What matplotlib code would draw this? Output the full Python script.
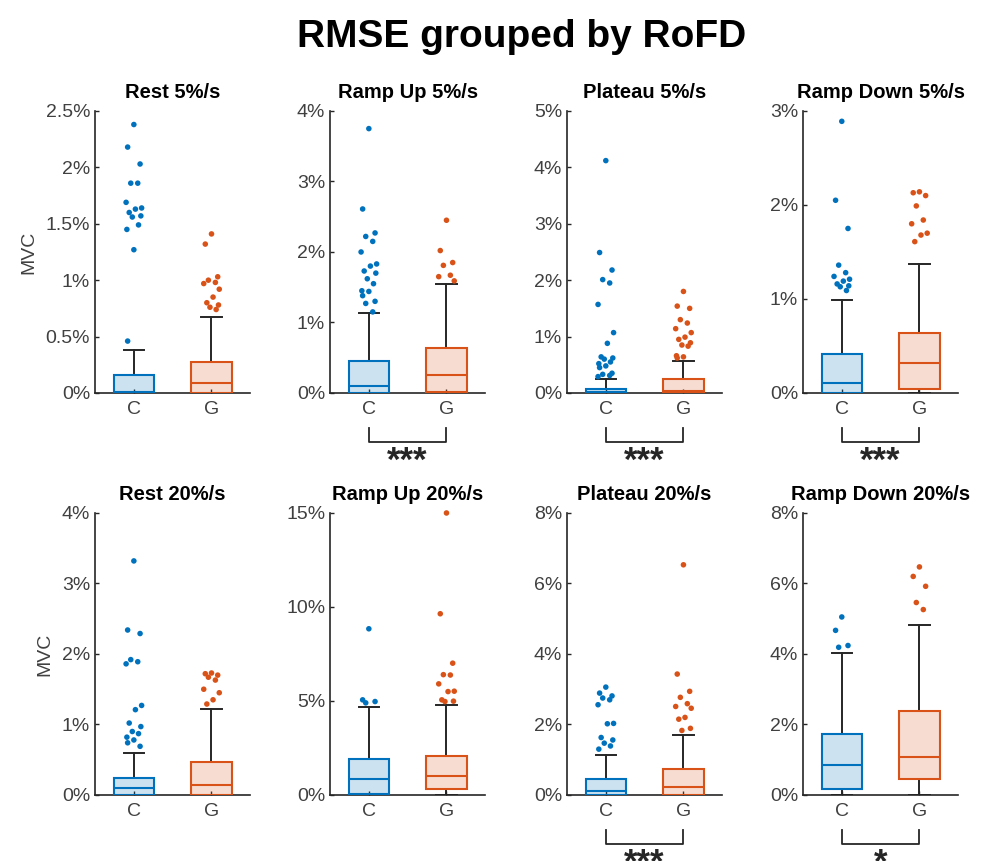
import numpy as np
import matplotlib.pyplot as plt
from matplotlib.ticker import FuncFormatter
import matplotlib.transforms as mtransforms

plt.rcParams['font.family'] = ['Liberation Sans', 'DejaVu Sans']

# panel layout: row 1 = 5%/s, row 2 = 20%/s
titles = ['Rest 5%/s', 'Ramp Up 5%/s', 'Plateau 5%/s', 'Ramp Down 5%/s',
          'Rest 20%/s', 'Ramp Up 20%/s', 'Plateau 20%/s', 'Ramp Down 20%/s']
y_max = [2.5, 4, 5, 3, 4, 15, 8, 8]
y_step = [0.5, 1, 1, 1, 1, 5, 2, 2]
groups = ['C', 'G']

# box summary per panel: (whisker low, q1, median, q3, whisker high), in % MVC
c_box = [(0, 0, 0.01, 0.163, 0.38),
         (0, 0, 0.095, 0.46, 1.14),
         (0, 0, 0.02, 0.077, 0.25),
         (0, 0, 0.107, 0.41, 0.99),
         (0, 0, 0.095, 0.246, 0.59),
         (0, 0.05, 0.83, 1.90, 4.67),
         (0, 0.01, 0.12, 0.445, 1.12),
         (0, 0.16, 0.85, 1.73, 4.02)]
g_box = [(0, 0, 0.089, 0.272, 0.675),
         (0, 0.02, 0.26, 0.64, 1.54),
         (0, 0, 0.03, 0.255, 0.56),
         (0, 0.043, 0.32, 0.64, 1.37),
         (0, 0, 0.14, 0.47, 1.22),
         (0, 0.30, 1.03, 2.09, 4.76),
         (0, 0, 0.22, 0.73, 1.70),
         (0, 0.45, 1.07, 2.39, 4.81)]

# outliers
c_out = [[2.38, 2.18, 2.03, 1.86, 1.86, 1.69, 1.64, 1.63, 1.60, 1.57, 1.56, 1.49, 1.45, 1.27, 0.46],
         [3.75, 2.61, 2.27, 2.22, 2.15, 2.00, 1.83, 1.80, 1.73, 1.70, 1.62, 1.55, 1.45, 1.44, 1.38, 1.30, 1.27, 1.15],
         [4.12, 2.49, 2.18, 2.01, 1.95, 1.57, 1.07, 0.88, 0.64, 0.62, 0.60, 0.55, 0.52, 0.48, 0.45, 0.35, 0.33, 0.31, 0.29],
         [2.89, 2.05, 1.75, 1.36, 1.28, 1.24, 1.21, 1.19, 1.16, 1.14, 1.13, 1.09],
         [3.32, 2.34, 2.29, 1.92, 1.89, 1.86, 1.27, 1.21, 1.02, 0.97, 0.90, 0.87, 0.82, 0.78, 0.74, 0.69],
         [8.84, 5.06, 4.97, 4.90],
         [3.06, 2.89, 2.81, 2.75, 2.70, 2.56, 2.03, 2.02, 1.63, 1.56, 1.47, 1.39, 1.30],
         [5.05, 4.67, 4.24, 4.19]]
g_out = [[1.41, 1.32, 1.03, 1.00, 0.98, 0.97, 0.92, 0.85, 0.80, 0.78, 0.76, 0.74],
         [2.45, 2.02, 1.85, 1.81, 1.67, 1.65, 1.59],
         [1.80, 1.54, 1.50, 1.30, 1.24, 1.14, 1.07, 0.99, 0.95, 0.89, 0.85, 0.83, 0.66, 0.64, 0.62],
         [2.14, 2.13, 2.10, 1.99, 1.84, 1.80, 1.70, 1.68, 1.61],
         [1.73, 1.72, 1.70, 1.67, 1.63, 1.50, 1.45, 1.35, 1.29],
         [15.0, 9.64, 7.01, 6.40, 6.38, 5.91, 5.52, 5.50, 5.06, 4.99, 4.97],
         [6.53, 3.43, 2.94, 2.77, 2.59, 2.51, 2.46, 2.20, 2.15, 1.89, 1.83],
         [6.47, 6.20, 5.92, 5.46, 5.26]]

# significance between C and G
stars = ['', '***', '***', '***', '', '', '***', '*']

blue = '#0072BD'
orange = '#D95319'
dark = '#262626'
colors = [blue, orange]

fig = plt.figure(figsize=(9.89, 8.61), dpi=100)
fig.suptitle('RMSE grouped by RoFD', fontsize=28, fontweight='bold', x=0.527, y=0.978)

lefts = [0.0961, 0.3337, 0.5733, 0.8119]
bottoms = [0.5436, 0.0767]
w, h = 0.157, 0.3275

jit = [0.0, -0.08, 0.08, -0.04, 0.05, -0.1, 0.1, 0.02, -0.06, 0.09, -0.02, 0.06, -0.09]

for i in range(8):
    ax = fig.add_axes([lefts[i % 4], bottoms[i // 4], w, h])
    stats = []
    for k, b in enumerate([c_box[i], g_box[i]]):
        stats.append(dict(whislo=b[0], q1=b[1], med=b[2], q3=b[3], whishi=b[4], label=groups[k]))
    bp = ax.bxp(stats, positions=[1, 2], widths=0.52, showfliers=False, patch_artist=True,
                capwidths=0.26,
                whiskerprops=dict(color=dark, lw=1.4),
                capprops=dict(color=dark, lw=1.4))
    for k in range(2):
        box = bp['boxes'][k]
        box.set_facecolor(colors[k] + '33')
        box.set_edgecolor(colors[k])
        box.set_linewidth(1.5)
        box.set_zorder(3)
        bp['medians'][k].set_color(colors[k])
        bp['medians'][k].set_linewidth(1.5)
        bp['medians'][k].set_zorder(4)
    for k, out in enumerate([c_out[i], g_out[i]]):
        xs = [k + 1 + jit[j % len(jit)] for j in range(len(out))]
        ax.scatter(xs, out, s=16, color=colors[k], edgecolors='none', zorder=5, clip_on=False)

    ax.set_xlim(0.5, 2.5)
    ax.set_ylim(0, y_max[i])
    ax.set_yticks(np.arange(0, y_max[i] + y_step[i] / 2, y_step[i]))
    ax.yaxis.set_major_formatter(FuncFormatter(lambda v, p: '{:g}%'.format(v)))
    ax.set_xticks([1, 2])
    ax.set_xticklabels(groups)
    for s in ['top', 'right']:
        ax.spines[s].set_visible(False)
    for s in ['left', 'bottom']:
        ax.spines[s].set_color(dark)
        ax.spines[s].set_linewidth(1.2)
    ax.tick_params(direction='in', length=3, width=1, colors=dark, labelcolor='#404040', labelsize=14)
    ax.tick_params(axis='x', pad=6)
    ax.set_title(titles[i], fontsize=14.5, fontweight='bold', pad=9)
    if i % 4 == 0:
        ax.set_ylabel('MVC', fontsize=14, color='#404040', labelpad=6)

    if stars[i]:
        tr = mtransforms.blended_transform_factory(ax.transData, ax.transAxes)
        ax.plot([1, 1, 2, 2], [-0.124, -0.174, -0.174, -0.124], color=dark, lw=1.3,
                transform=tr, clip_on=False)
        ax.text(1.5, -0.277, stars[i], transform=tr, ha='center', va='baseline',
                fontsize=25, fontweight='bold', color=dark, clip_on=False)

fig.savefig('out.png', dpi=100)
